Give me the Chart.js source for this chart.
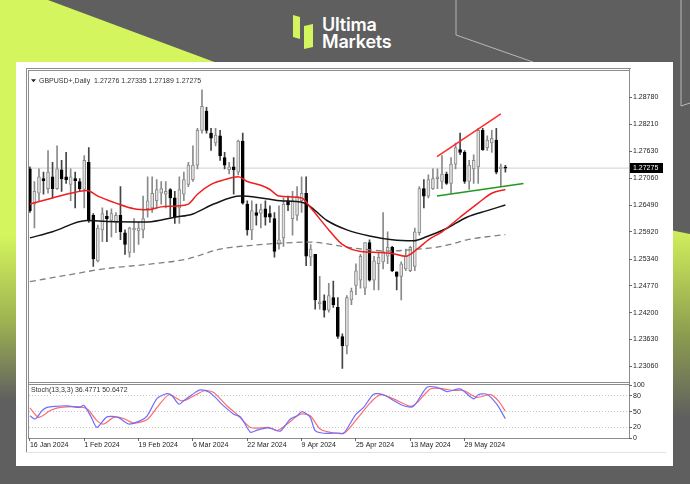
<!DOCTYPE html>
<html lang="en">
<head>
<meta charset="UTF-8">
<meta name="viewport" content="width=device-width, initial-scale=1.0">
<title>GBPUSD Daily</title>
<script src="https://cdn.jsdelivr.net/npm/chart.js"></script>
<style>
    html, body { margin: 0; padding: 0; }
    body { width: 690px; height: 484px; background: #5f5f5f; position: relative; overflow: hidden; font-family: 'Liberation Sans', Arial, sans-serif; }
    .lime-left { position: absolute; left: 0; top: 0; width: 260px; height: 484px;
        clip-path: polygon(0 0, 48px 0, 260px 79px, 260px 484px, 0 484px);
        background: linear-gradient(to bottom, #d4f55e 0, #d4f55e 235px, #9fb451 320px, #5f5f5f 400px); }
    .lime-right { position: absolute; left: 660px; top: 228px; width: 30px; height: 200px;
        clip-path: polygon(0 0, 100% 6px, 100% 100%, 0 100%);
        background: linear-gradient(to bottom, #d2f05c 0, #b9d257 40px, #8a9a4f 110px, #5f5f5f 190px); }
    .deco { position: absolute; left: 0; top: 0; }
    .brand { position: absolute; left: 322px; top: 16px; color: #fff; font-family: Inter, 'Noto Sans', sans-serif;
        font-weight: 600; font-size: 18px; line-height: 17px; letter-spacing: -0.2px; }
    .panel { position: absolute; left: 16px; top: 62px; width: 657px; height: 404px; background: #fff; }
    .ln { position: absolute; background: #8c8c8c; }
    #mainBox { position: absolute; left: 29px; top: 70px; width: 641px; height: 312px; }
    #stochBox { position: absolute; left: 29px; top: 380px; width: 641px; height: 72px; }
</style>
</head>
<body>
    <div class="lime-left"></div>
    <div class="lime-right"></div>
    <svg class="deco" width="690" height="484">
        <polyline points="456,0 456,35 533,62" fill="none" stroke="#b8b8b8" stroke-width="1"/>
        <polyline points="681,0 681,106 690,103" fill="none" stroke="#b8b8b8" stroke-width="1"/>
        <polygon points="293,15 300,17 300,39 293,37" fill="#d4f55e"/>
        <polygon points="304,26 313,24 313,47 304,49" fill="#d4f55e"/>
    </svg>
    <div class="brand">Ultima<br>Markets</div>

    <div class="panel"></div>
    <!-- terminal frame -->
    <div class="ln" style="left:26px;top:68px;width:605px;height:1px"></div>
    <div class="ln" style="left:28px;top:70px;width:602px;height:1px"></div>
    <div class="ln" style="left:26px;top:68px;width:1px;height:384px"></div>
    <div class="ln" style="left:28px;top:70px;width:1px;height:368px"></div>
    <div class="ln" style="left:629px;top:68px;width:1px;height:371px"></div>
    <div class="ln" style="left:28px;top:382px;width:602px;height:1px"></div>
    <div class="ln" style="left:28px;top:384px;width:602px;height:1px"></div>
    <div class="ln" style="left:28px;top:438px;width:602px;height:1px"></div>
    <div class="ln" style="left:26px;top:452px;width:640px;height:1px;background:#e2e2e2"></div>

    <div id="mainBox"><canvas id="mainChart"></canvas></div>
    <div id="stochBox"><canvas id="stochChart"></canvas></div>

<script>
    // candles, 16 Jan 2024 .. mid Jun 2024 (bar index 0..105)
    const openP = [
        1.2726,1.2651,1.2674,1.2705,1.2684,1.2709,1.2684,1.2724,1.2709,1.2693,
        1.2705,1.2699,1.2682,1.2740,1.2627,1.2530,1.2596,1.2625,1.2616,1.2612,
        1.2627,1.2590,1.2548,1.2596,1.2594,1.2596,1.2641,1.2643,1.2658,1.2674,
        1.2672,1.2682,1.2664,1.2643,1.2672,1.2693,1.2703,1.2734,1.2808,1.2849,
        1.2802,1.2781,1.2796,1.2750,1.2724,1.2730,1.2719,1.2785,1.2651,1.2596,
        1.2633,1.2631,1.2641,1.2631,1.2620,1.2565,1.2579,1.2658,1.2620,1.2627,
        1.2658,1.2674,1.2538,1.2544,1.2439,1.2445,1.2425,1.2452,1.2431,1.2369,
        1.2349,1.2447,1.2478,1.2489,1.2472,1.2569,1.2489,1.2524,1.2528,1.2540,
        1.2559,1.2507,1.2497,1.2513,1.2509,1.2518,1.2590,1.2684,1.2668,1.2684,
        1.2705,1.2699,1.2715,1.2695,1.2736,1.2767,1.2761,1.2699,1.2726,1.2730,
        1.2808,1.2771,1.2781,1.2787,1.2726,1.27276];
    const highP = [
        1.2730,1.2699,1.2726,1.2719,1.2765,1.2740,1.2775,1.2744,1.2761,1.2726,
        1.2719,1.2705,1.2754,1.2771,1.2631,1.2606,1.2643,1.2637,1.2641,1.2633,
        1.2688,1.2596,1.2602,1.2620,1.2612,1.2668,1.2709,1.2709,1.2703,1.2699,
        1.2699,1.2684,1.2678,1.2709,1.2719,1.2740,1.2775,1.2812,1.2894,1.2857,
        1.2812,1.2812,1.2808,1.2761,1.2740,1.2750,1.2787,1.2802,1.2658,1.2658,
        1.2651,1.2651,1.2658,1.2647,1.2633,1.2647,1.2664,1.2668,1.2678,1.2688,
        1.2709,1.2709,1.2565,1.2544,1.2497,1.2458,1.2482,1.2487,1.2452,1.2375,
        1.2456,1.2472,1.2524,1.2544,1.2569,1.2575,1.2540,1.2548,1.2633,1.2592,
        1.2561,1.2507,1.2528,1.2555,1.2561,1.2600,1.2688,1.2703,1.2713,1.2726,
        1.2726,1.2754,1.2719,1.2750,1.2781,1.2802,1.2765,1.2744,1.2756,1.2812,
        1.2812,1.2796,1.2808,1.2812,1.2736,1.27335];
    const lowP = [
        1.2633,1.2600,1.2658,1.2672,1.2674,1.2664,1.2682,1.2678,1.2695,1.2658,
        1.2643,1.2678,1.2643,1.2612,1.2518,1.2528,1.2571,1.2571,1.2581,1.2590,
        1.2575,1.2544,1.2538,1.2548,1.2565,1.2579,1.2623,1.2633,1.2643,1.2651,
        1.2643,1.2623,1.2610,1.2610,1.2658,1.2688,1.2699,1.2726,1.2802,1.2802,
        1.2765,1.2775,1.2744,1.2726,1.2715,1.2672,1.2713,1.2651,1.2585,1.2575,
        1.2606,1.2600,1.2606,1.2612,1.2538,1.2555,1.2561,1.2637,1.2585,1.2616,
        1.2633,1.2520,1.2520,1.2427,1.2427,1.2410,1.2421,1.2431,1.2365,1.2301,
        1.2332,1.2437,1.2458,1.2472,1.2458,1.2487,1.2468,1.2468,1.2513,1.2524,
        1.2507,1.2468,1.2447,1.2509,1.2507,1.2509,1.2585,1.2643,1.2664,1.2682,
        1.2684,1.2684,1.2693,1.2674,1.2726,1.2756,1.2695,1.2682,1.2695,1.2695,
        1.2765,1.2765,1.2761,1.2715,1.2688,1.27189];
    const closeP = [
        1.2637,1.2678,1.2709,1.2701,1.2719,1.2684,1.2726,1.2705,1.2703,1.2709,
        1.2701,1.2684,1.2744,1.2616,1.2534,1.2600,1.2631,1.2620,1.2631,1.2627,
        1.2592,1.2565,1.2600,1.2600,1.2600,1.2620,1.2658,1.2674,1.2682,1.2684,
        1.2678,1.2664,1.2623,1.2682,1.2703,1.2734,1.2734,1.2808,1.2859,1.2808,
        1.2791,1.2798,1.2754,1.2734,1.2730,1.2724,1.2785,1.2653,1.2596,1.2637,
        1.2627,1.2639,1.2623,1.2623,1.2550,1.2575,1.2651,1.2649,1.2658,1.2668,
        1.2674,1.2540,1.2555,1.2447,1.2443,1.2425,1.2456,1.2437,1.2369,1.2349,
        1.2452,1.2466,1.2509,1.2540,1.2569,1.2489,1.2530,1.2538,1.2550,1.2559,
        1.2509,1.2497,1.2524,1.2540,1.2559,1.2592,1.2684,1.2668,1.2703,1.2705,
        1.2709,1.2715,1.2695,1.2736,1.2771,1.2761,1.2699,1.2734,1.2744,1.2808,
        1.2767,1.2787,1.2791,1.2719,1.2730,1.27275];

    // moving averages (bar index, price)
    const maRedIdx = [0,5,9,12.6,15,19,23,26,29,32.5,35,37,40,43,46,48,51,53,55,60,62,66,69,73,77,80,83,85.5,88,91,95,99,102,105];
    const maRedVal = [1.2651,1.2664,1.2674,1.2680,1.2668,1.2653,1.2641,1.2639,1.2645,1.2647,1.2651,1.2672,1.2693,1.2703,1.2709,1.2699,1.2691,1.2682,1.2668,1.2664,1.2643,1.2596,1.2565,1.2550,1.2548,1.2546,1.2540,1.2555,1.2575,1.2592,1.2623,1.2653,1.2674,1.2682];
    const maBlackIdx = [0,5,12.6,17,26,32,36,40.6,46.5,51,53,55.3,60.4,65.6,70,75,80,84.7,87.7,92,96.5,101,105];
    const maBlackVal = [1.2579,1.2592,1.2616,1.2614,1.2613,1.2623,1.2630,1.2651,1.2668,1.2664,1.2661,1.2658,1.2654,1.2616,1.2596,1.2583,1.2575,1.2573,1.2582,1.2599,1.2623,1.2637,1.2649];
    const maSlowIdx = [0,9,16.3,27.3,34.7,42,49,56,62,70.8,79.6,85.5,89,92.8,96.5,105];
    const maSlowVal = [1.2486,1.2501,1.2513,1.2524,1.2534,1.2555,1.2563,1.2568,1.2570,1.2558,1.2551,1.2555,1.2558,1.2565,1.2575,1.2586];

    // hand drawn trend lines
    const resLineIdx = [89.9, 104];
    const resLineVal = [1.2752, 1.2843];
    const supLineIdx = [89.9, 109];
    const supLineVal = [1.2668, 1.2695];

    // stochastic (13,3,3)
    const stochKIdx = [0,1.2,2.7,3.8,5.5,8.2,11,11.9,13.4,14.8,17,19.5,21.8,24.4,25.9,28.1,30.3,31.4,32.9,34,35.8,37.6,39.5,41.3,42,45,46.5,48.7,50.2,52.4,53.5,55.3,57.5,59,60.1,61.9,63,64.9,67.8,69.3,71.9,73.7,75.9,78.1,80.3,82.5,84.7,87.7,89.9,92.1,95,98,99,100.9,103.1,105];
    const stochKVal = [42,36,52,58,60,61,58,62,42,20,40,39,26.5,33,42,75,84,80,64,71,82,91,87,74,67,45,40,11,15,19,18,13,36,42,50,39,14,9,9.5,9,44,58,83,82,71,61,60,96,96,88,93,74,82,83,64,36.4771];
    const stochDIdx = [0,1.9,4.5,6.7,11.1,12.8,14.8,16.3,18.5,20.7,22.9,25.9,28.1,30.7,33.2,34.5,36.9,38.7,40.6,43.5,45.7,48.7,50.9,52.7,54.6,56.8,59.7,61.9,64.1,67.1,69.6,72.2,75.2,77.4,80.3,84,85.5,88.4,90.6,93.6,95.8,98.7,101.7,103.5,105];
    const stochDVal = [57,39,52,58,59,54,33,26.5,39,37,28,35,58,82,71,72,83,90,86,61,45,20,19,20,14,26.5,45,42,17,9.5,10.6,36,67,82,74,60,67,93,94,90,90,77,82,70,50.6472];
    const stochLevels = [0, 20, 50, 80, 100];

    // axes
    const priceTicks = [1.28780,1.28210,1.27630,1.27060,1.26490,1.25920,1.25340,1.24770,1.24200,1.23630,1.23060];
    const priceMin = 1.22833, priceMax = 1.29253;
    const barMin = -0.2, barMax = 132.3;
    const dateTicks = [0,12,24,36,48,60,72,84,96];
    const dateLabels = ['16 Jan 2024','1 Feb 2024','19 Feb 2024','6 Mar 2024','22 Mar 2024','9 Apr 2024','25 Apr 2024','13 May 2024','29 May 2024'];
    const symbolName = 'GBPUSD+,Daily';

    const FONT = 'Liberation Sans';
    const last = openP.length - 1;
    const bull = closeP.map((c, i) => c >= openP[i]);
    const pts = (idx, val) => idx.map((x, k) => ({x: x, y: val[k]}));

    const wickData = openP.map((o, i) => ({x: i, y: [lowP[i], highP[i]]}));
    const bodyData = openP.map((o, i) => ({x: i, y: [Math.min(o, closeP[i]), Math.max(o, closeP[i])]}));

    const headerPlugin = {
        id: 'header',
        afterDraw(chart) {
            const ctx = chart.ctx, a = chart.chartArea;
            ctx.save();
            ctx.fillStyle = '#222';
            ctx.beginPath();
            ctx.moveTo(a.left + 2, a.top + 4);
            ctx.lineTo(a.left + 7, a.top + 4);
            ctx.lineTo(a.left + 4.5, a.top + 7);
            ctx.closePath();
            ctx.fill();
            ctx.font = '7px "' + FONT + '"';
            ctx.textBaseline = 'middle';
            ctx.fillStyle = '#333';
            const txt = symbolName + '  ' + [openP[last], highP[last], lowP[last], closeP[last]].map(v => v.toFixed(5)).join(' ');
            ctx.fillText(txt, a.left + 10, a.top + 6);
            ctx.restore();
        }
    };

    const bidPlugin = {
        id: 'bidLabel',
        afterDraw(chart) {
            const ctx = chart.ctx, a = chart.chartArea;
            const y = chart.scales.y.getPixelForValue(closeP[last]);
            ctx.save();
            ctx.fillStyle = '#000';
            ctx.fillRect(a.right + 1, Math.round(y) - 5, 33, 10);
            ctx.fillStyle = '#fff';
            ctx.font = '7px "' + FONT + '"';
            ctx.textBaseline = 'middle';
            ctx.fillText(closeP[last].toFixed(5), a.right + 4, Math.round(y));
            ctx.restore();
        }
    };

    new Chart(document.getElementById('mainChart'), {
        type: 'bar',
        data: {
            datasets: [
                { type: 'line', data: pts(supLineIdx, supLineVal), borderColor: '#1f9a1f', borderWidth: 1.5, pointRadius: 0, order: 0 },
                { type: 'line', data: pts(resLineIdx, resLineVal), borderColor: '#ff2a2a', borderWidth: 1.5, pointRadius: 0, order: 0 },
                { type: 'line', data: pts(maRedIdx, maRedVal), borderColor: '#f01e1e', borderWidth: 1.5, pointRadius: 0, cubicInterpolationMode: 'monotone', order: 1 },
                { type: 'line', data: pts(maBlackIdx, maBlackVal), borderColor: '#151515', borderWidth: 1.5, pointRadius: 0, cubicInterpolationMode: 'monotone', order: 1 },
                { type: 'line', data: pts(maSlowIdx, maSlowVal), borderColor: '#808080', borderWidth: 1.3, borderDash: [6, 4], pointRadius: 0, cubicInterpolationMode: 'monotone', order: 1 },
                { type: 'bar', data: bodyData, barThickness: 3, minBarLength: 1, grouped: false, borderSkipped: false, borderWidth: 1,
                  backgroundColor: bull.map(b => b ? '#e2e2e2' : '#000'),
                  borderColor: bull.map(b => b ? '#8a8a8a' : '#000'), order: 2 },
                { type: 'bar', data: wickData, barThickness: 1, grouped: false,
                  backgroundColor: bull.map(b => b ? '#8a8a8a' : '#444'), order: 3 },
                { type: 'line', data: [{x: barMin, y: closeP[last]}, {x: barMax, y: closeP[last]}], borderColor: '#cfcfcf', borderWidth: 1, pointRadius: 0, order: 4 }
            ]
        },
        options: {
            animation: false,
            responsive: true,
            maintainAspectRatio: false,
            layout: { padding: 0 },
            plugins: { legend: { display: false }, tooltip: { enabled: false } },
            scales: {
                x: { type: 'linear', min: barMin, max: barMax, offset: false, display: false },
                y: {
                    type: 'linear', position: 'right', min: priceMin, max: priceMax, beginAtZero: false,
                    afterBuildTicks: s => { s.ticks = priceTicks.map(v => ({value: v})); },
                    afterFit: s => { s.width = 41; },
                    ticks: { callback: v => Number(v).toFixed(5), font: { size: 7, family: FONT }, color: '#222', padding: 1 },
                    grid: { drawOnChartArea: false, tickLength: 3, color: '#666' },
                    border: { display: false }
                }
            }
        },
        plugins: [headerPlugin, bidPlugin]
    });

    const stochHeader = {
        id: 'stochHeader',
        afterDraw(chart) {
            const ctx = chart.ctx, a = chart.chartArea;
            ctx.save();
            ctx.font = '7px "' + FONT + '"';
            ctx.textBaseline = 'middle';
            ctx.fillStyle = '#333';
            ctx.fillText('Stoch(13,3,3) ' + stochKVal[stochKVal.length - 1].toFixed(4) + ' ' + stochDVal[stochDVal.length - 1].toFixed(4), a.left + 2, a.top + 5);
            ctx.restore();
        }
    };

    new Chart(document.getElementById('stochChart'), {
        type: 'line',
        data: {
            datasets: [
                { data: pts(stochKIdx, stochKVal), borderColor: '#6e6eff', borderWidth: 1.2, pointRadius: 0, tension: 0.25 },
                { data: pts(stochDIdx, stochDVal), borderColor: '#ff6b6b', borderWidth: 1.2, pointRadius: 0, tension: 0.25 }
            ]
        },
        options: {
            animation: false,
            responsive: true,
            maintainAspectRatio: false,
            layout: { padding: { top: 4, left: 0, right: 0, bottom: 0 } },
            plugins: { legend: { display: false }, tooltip: { enabled: false } },
            scales: {
                x: {
                    type: 'linear', min: barMin, max: barMax, position: 'bottom',
                    afterBuildTicks: s => { s.ticks = dateTicks.map(v => ({value: v})); },
                    afterFit: s => { s.height = 14; },
                    ticks: { callback: (v, i) => dateLabels[i], align: 'start', autoSkip: false, maxRotation: 0,
                             font: { size: 7, family: FONT }, color: '#222', padding: 0 },
                    grid: { drawOnChartArea: false, tickLength: 3, color: '#666' },
                    border: { display: false }
                },
                y: {
                    type: 'linear', position: 'right', min: 0, max: 100,
                    afterBuildTicks: s => { s.ticks = stochLevels.map(v => ({value: v})); },
                    afterFit: s => { s.width = 41; },
                    ticks: { callback: v => String(v), font: { size: 7, family: FONT }, color: '#222', padding: 1 },
                    grid: { color: c => (c.tick && c.tick.value > 0 && c.tick.value < 100) ? '#c4c4c4' : 'rgba(0,0,0,0)',
                            tickColor: '#666', tickLength: 3 },
                    border: { display: false, dash: [1, 2] }
                }
            }
        },
        plugins: [stochHeader]
    });
</script>
</body>
</html>
